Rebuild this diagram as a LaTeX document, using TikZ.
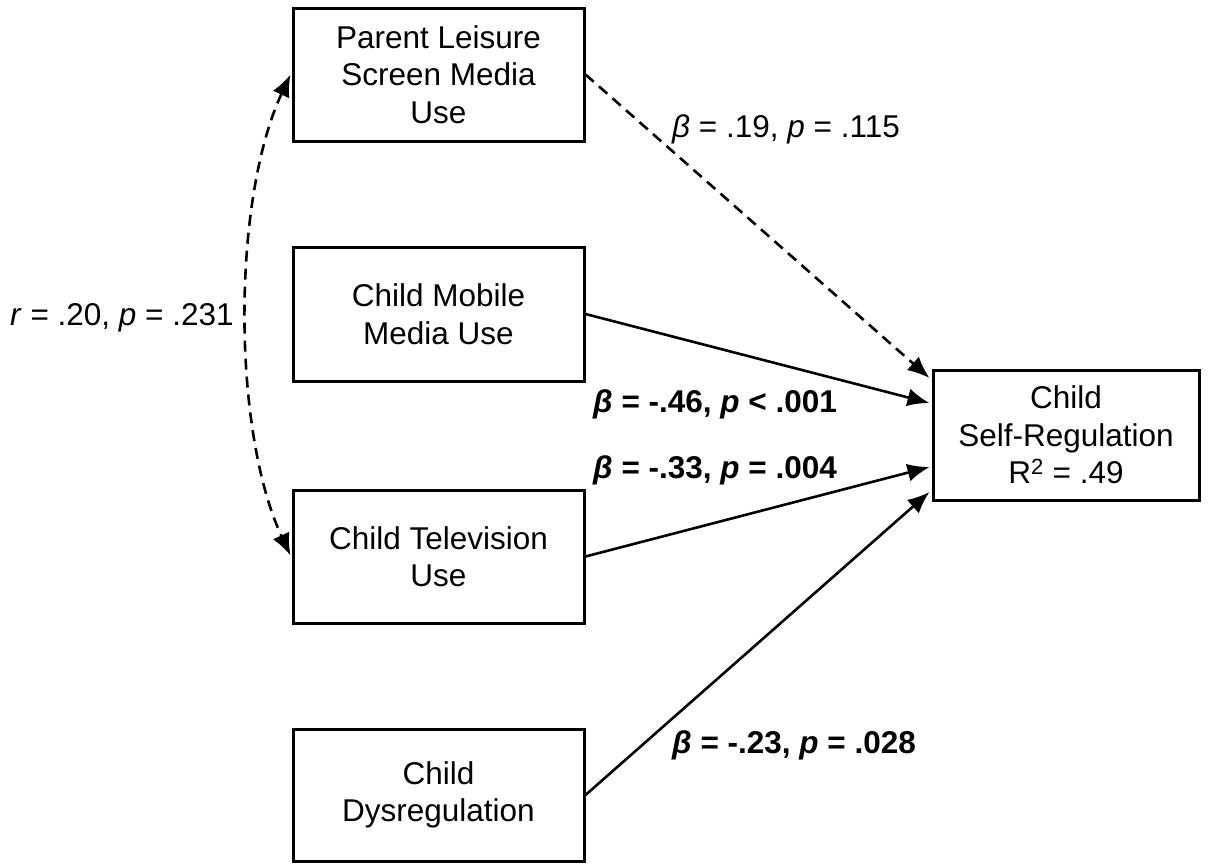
\documentclass[tikz,border=0pt]{standalone}
\usepackage{fontspec}
\setmainfont{Liberation Sans}
\usetikzlibrary{arrows.meta}
\begin{document}
\begin{tikzpicture}[x=1pt,y=-1pt,
  varbox/.style={draw,line width=3pt,align=center,inner sep=0pt,
    font=\fontsize{31.5}{37.5}\selectfont},
  lbl/.style={anchor=base west,inner sep=0pt,font=\fontsize{31.5}{37.5}\selectfont},
  conn/.style={line width=2.6pt,-{Latex[length=22pt,width=18pt]}},
  dconn/.style={conn,dash pattern=on 11pt off 7pt}]
\useasboundingbox (0,0) rectangle (1221,863);
\node[varbox,minimum width=291pt,minimum height=133pt] (p) at (438.5,74.5) {Parent Leisure\\Screen Media\\Use};
\node[varbox,minimum width=291pt,minimum height=134pt] (m) at (438.5,314) {Child Mobile\\Media Use};
\node[varbox,minimum width=291pt,minimum height=133pt] (t) at (438.5,556.5) {Child Television\\Use};
\node[varbox,minimum width=291pt,minimum height=132pt] (d) at (438.5,795) {Child\\Dysregulation};
\node[varbox,minimum width=266pt,minimum height=130pt] (s) at (1066,435) {Child\\Self-Regulation\\R\textsuperscript{2} = .49};
\coordinate (s1) at ([yshift=57pt,xshift=-2pt]s.west);
\coordinate (s2) at ([yshift=32pt,xshift=-2pt]s.west);
\coordinate (s3) at ([yshift=-32pt,xshift=-2pt]s.west);
\coordinate (s4) at ([yshift=-57pt,xshift=-2pt]s.west);
\coordinate (pl) at ([xshift=-1pt]p.west);
\coordinate (tl) at ([xshift=-1pt,yshift=1pt]t.west);
\draw[dconn] (p.east) -- (s1);
\draw[conn] (m.east) -- (s2);
\draw[conn] (t.east) -- (s3);
\draw[conn] (d.east) -- (s4);
\draw[dconn,{Latex[length=22pt,width=18pt]}-{Latex[length=22pt,width=18pt]}] (pl) .. controls (232,200) and (232,430) .. (tl);
\node[lbl] (l1) at (672,137) {\textit{β} = .19, \textit{p} = .115};
\node[lbl] (l0) at (10,325) {\textit{r} = .20, \textit{p} = .231};
\node[lbl] (l2) at (593,412) {\textbf{\textit{β} = -.46, \textit{p} < .001}};
\node[lbl] (l3) at (593,478) {\textbf{\textit{β} = -.33, \textit{p} = .004}};
\node[lbl] (l4) at (672,753) {\textbf{\textit{β} = -.23, \textit{p} = .028}};
\end{tikzpicture}
\end{document}
